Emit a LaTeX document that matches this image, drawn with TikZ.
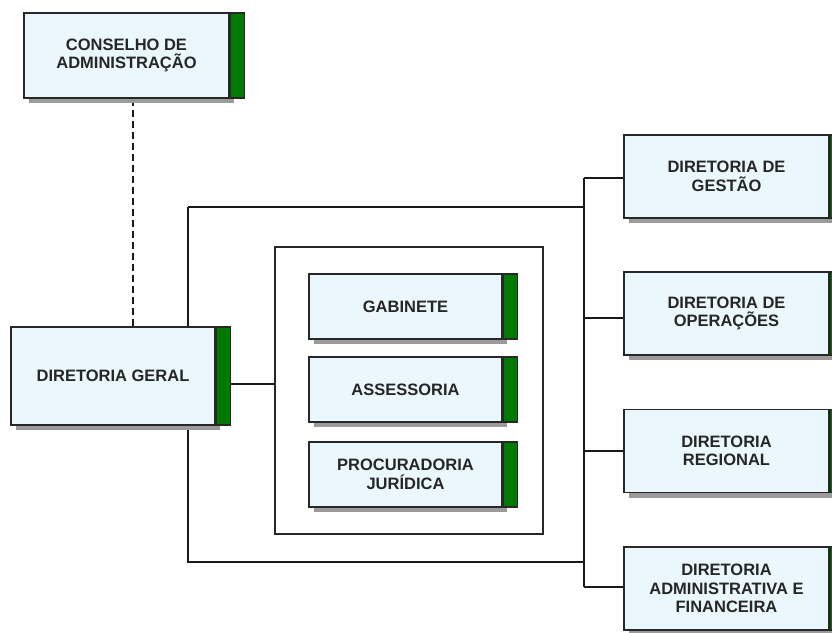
\documentclass[tikz,border=0pt]{standalone}
\usepackage{fontspec}
\setmainfont{Liberation Sans}
\usetikzlibrary{positioning,shadows,backgrounds}
\definecolor{caixa}{RGB}{234,247,253}
\definecolor{verde}{RGB}{0,122,0}
\definecolor{borda}{RGB}{40,40,40}
\definecolor{linha}{RGB}{25,25,25}
\definecolor{sombra}{RGB}{155,155,155}

\begin{document}
\begin{tikzpicture}[x=1pt,y=-1pt]
        \useasboundingbox (0,0) rectangle (832,632);
        \clip (0,0) rectangle (832,632);
        % caixas das unidades
        \begin{scope}[every node/.style={draw=borda, line width=1.3pt, fill=caixa, align=center, inner sep=0pt,
                        font=\bfseries\fontsize{16.5}{18.5}\selectfont, text=black!85,
                        drop shadow={shadow xshift=5pt, shadow yshift=-5pt, fill=sombra, opacity=1}}]
                \node [minimum width=205pt, minimum height=85pt] (conselho) at (126.5,55.5) {CONSELHO DE\\ADMINISTRAÇÃO};
                \node [minimum width=204pt, minimum height=98pt] (geral) at (113,376) {DIRETORIA GERAL};
                \node [minimum width=193pt, minimum height=65pt] (gabinete) at (405.5,306.5) {GABINETE};
                \node [minimum width=193pt, minimum height=65pt] (assessoria) at (405.5,389.5) {ASSESSORIA};
                \node [minimum width=193pt, minimum height=65pt] (procuradoria) at (405.5,474.5) {PROCURADORIA\\JURÍDICA};
                \node [minimum width=205pt, minimum height=83pt] (gestao) at (726.5,176.5) {DIRETORIA DE\\GESTÃO};
                \node [minimum width=205pt, minimum height=83pt] (operacoes) at (726.5,313.5) {DIRETORIA DE\\OPERAÇÕES};
                \node [minimum width=205pt, minimum height=83pt] (regional) at (726.5,451) {DIRETORIA\\REGIONAL};
                \node [minimum width=205pt, minimum height=83pt] (financeira) at (726.5,588.5) {DIRETORIA\\ADMINISTRATIVA E\\FINANCEIRA};
        \end{scope}
        % barras verdes
        \begin{scope}[every node/.style={draw=borda, line width=1.3pt, fill=verde, minimum width=14pt, inner sep=0pt}]
                \node [right=0pt of conselho, minimum height=85pt] (conselho-v) {};
                \node [right=0pt of geral, minimum height=98pt] (geral-v) {};
                \node [right=0pt of gabinete, minimum height=65pt] (gabinete-v) {};
                \node [right=0pt of assessoria, minimum height=65pt] (assessoria-v) {};
                \node [right=0pt of procuradoria, minimum height=65pt] (procuradoria-v) {};
                \node [right=0pt of gestao, minimum height=83pt] (gestao-v) {};
                \node [right=0pt of operacoes, minimum height=83pt] (operacoes-v) {};
                \node [right=0pt of regional, minimum height=83pt] (regional-v) {};
                \node [right=0pt of financeira, minimum height=83pt] (financeira-v) {};
        \end{scope}
        \node [draw=borda, line width=1.3pt, minimum width=268pt, minimum height=287pt] (quadro) at (409,390.5) {};
        % ligacoes
        \begin{scope}[on background layer, every path/.style={draw=linha, line width=1.3pt}]
                \coordinate (barraE) at (188,207);
                \coordinate (barraEb) at (188,562);
                \coordinate (barraD) at (584,0);
                \path (barraE) edge (barraE -| barraD);
                \draw (barraE) -- (barraEb) -- (barraEb -| barraD);
                \draw ([yshift=-1.5pt]gestao.west -| barraD) -- ([yshift=1.5pt]financeira.west -| barraD);
                \foreach \u/\d in {gestao/-1.5,operacoes/-4.5,regional/0,financeira/1.5}
                        \draw ([yshift=\d pt]\u.west) -- ([yshift=\d pt]\u.west -| barraD);
                \draw ([yshift=-8pt]geral-v.east) -- ([yshift=-8pt]geral-v.east -| quadro.west);
                \draw [dash pattern=on 7pt off 4pt] ([xshift=6.5pt]conselho.south) -- ([xshift=6.5pt]conselho.south |- geral.north);
        \end{scope}
\end{tikzpicture}
\end{document}
